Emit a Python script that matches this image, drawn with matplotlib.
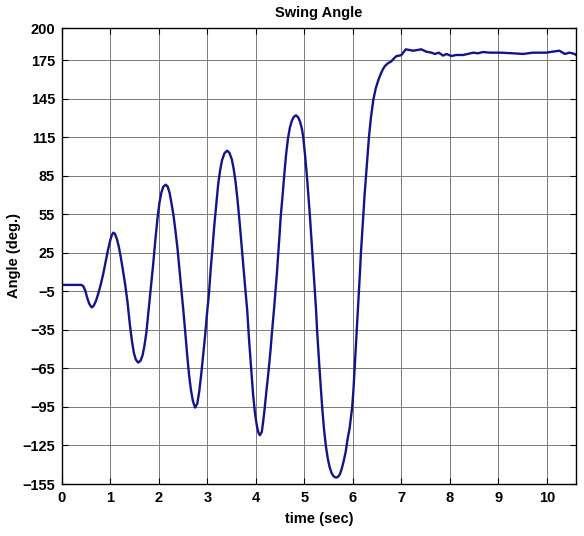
import matplotlib
matplotlib.use('agg')
import matplotlib.pyplot as plt
import numpy as np

# swing angle readings (time in sec, angle in deg.)
t_sec = [0.00, 0.40, 0.44, 0.48, 0.52, 0.56, 0.61, 0.65, 0.70, 0.75,
         0.80, 0.85, 0.90, 0.95, 1.00, 1.03, 1.06, 1.09, 1.13, 1.17,
         1.21, 1.25, 1.30, 1.35, 1.40, 1.44, 1.48, 1.52, 1.57, 1.62,
         1.66, 1.70, 1.74, 1.78, 1.83, 1.88, 1.93, 1.97, 2.01, 2.05,
         2.09, 2.14, 2.18, 2.22, 2.26, 2.30, 2.34, 2.38, 2.42, 2.46,
         2.50, 2.54, 2.58, 2.62, 2.66, 2.70, 2.745, 2.79, 2.83, 2.87,
         2.91, 2.95, 2.99, 3.03, 3.07, 3.10, 3.14, 3.18, 3.22, 3.26,
         3.30, 3.35, 3.405, 3.45, 3.50, 3.54, 3.58, 3.62, 3.66, 3.70,
         3.74, 3.78, 3.82, 3.86, 3.90, 3.94, 3.98, 4.02, 4.05, 4.08,
         4.12, 4.15, 4.18, 4.22, 4.26, 4.30, 4.33, 4.37, 4.40, 4.43,
         4.46, 4.49, 4.51, 4.55, 4.58, 4.62, 4.66, 4.70, 4.74, 4.78,
         4.825, 4.87, 4.91, 4.95, 4.975, 5.015, 5.05, 5.08, 5.11, 5.14,
         5.165, 5.19, 5.215, 5.24, 5.26, 5.285, 5.31, 5.34, 5.365, 5.40,
         5.44, 5.48, 5.52, 5.56, 5.60, 5.65, 5.69, 5.73, 5.77, 5.81,
         5.85, 5.89, 5.93, 5.96, 5.985, 6.01, 6.035, 6.06, 6.08, 6.10,
         6.125, 6.145, 6.165, 6.19, 6.215, 6.24, 6.27, 6.30, 6.33, 6.37,
         6.42, 6.47, 6.52, 6.57, 6.62, 6.66, 6.72, 6.79, 6.85, 6.90,
         6.96, 7.00, 7.05, 7.09, 7.17, 7.24, 7.32, 7.41, 7.46, 7.51,
         7.62, 7.69, 7.77, 7.86, 7.93, 8.03, 8.13, 8.27, 8.37, 8.48,
         8.58, 8.68, 8.82, 9.03, 9.30, 9.51, 9.71, 9.99, 10.12, 10.26,
         10.37, 10.47, 10.57, 10.60]
angle_deg = [0.0, 0.0, -1.0, -4.5, -10.0, -14.5, -17.5, -16.5, -12.5, -6.5,
             0.5, 8.5, 18.0, 27.5, 35.5, 39.0, 40.7, 39.8, 36.0, 30.0,
             22.0, 13.0, 1.0, -13.0, -31.0, -43.0, -52.5, -58.0, -60.5, -59.0,
             -55.0, -47.5, -37.0, -22.0, -3.0, 16.0, 37.0, 52.0, 64.0, 72.0,
             76.5, 78.0, 76.5, 71.5, 63.0, 54.0, 42.0, 29.0, 13.0, -3.0,
             -19.0, -36.0, -54.0, -70.0, -82.0, -90.5, -95.5, -92.5, -83.0, -70.0,
             -55.0, -40.0, -22.5, -7.0, 14.0, 27.0, 46.0, 62.0, 78.0, 89.0,
             97.0, 102.5, 104.5, 103.0, 98.0, 90.5, 80.0, 66.0, 50.0, 32.0,
             14.0, -3.0, -20.0, -44.0, -65.0, -85.0, -100.0, -110.0, -115.0, -117.0,
             -114.5, -106.0, -96.0, -81.0, -67.0, -51.0, -37.0, -20.0, -6.0, 8.0,
             24.0, 41.0, 53.0, 70.0, 84.0, 101.0, 114.0, 122.5, 127.8, 130.8,
             132.0, 130.5, 127.0, 121.0, 115.0, 100.0, 85.0, 70.0, 55.0, 38.0,
             25.0, 10.0, -5.0, -20.0, -35.0, -50.0, -65.0, -81.0, -95.0, -111.0,
             -125.0, -135.0, -142.0, -146.5, -149.0, -150.0, -149.5, -147.5, -143.0, -137.0,
             -130.0, -120.0, -112.0, -103.0, -95.0, -82.0, -65.0, -49.0, -35.0, -21.0,
             -5.0, 10.0, 25.0, 40.0, 55.0, 70.0, 85.0, 100.0, 115.0, 130.0,
             144.0, 153.0, 159.0, 164.0, 168.0, 170.4, 172.5, 174.0, 176.5, 178.2,
             178.5, 179.0, 181.5, 183.4, 182.8, 182.3, 182.8, 183.4, 182.5, 181.6,
             180.8, 179.8, 180.8, 178.5, 179.8, 178.2, 179.0, 179.0, 179.8, 180.8,
             180.3, 181.3, 180.8, 180.8, 180.3, 179.8, 180.8, 180.8, 181.6, 182.3,
             179.8, 180.8, 179.8, 179.0]

y_ticks = [-155, -125, -95, -65, -35, -5, 25, 55, 85, 115, 145, 175, 200]
x_ticks = [0, 1, 2, 3, 4, 5, 6, 7, 8, 9, 10]

plt.rcParams['font.family'] = ['Liberation Sans', 'DejaVu Sans']
plt.rcParams['font.weight'] = 'bold'

fig = plt.figure(figsize=(5.84, 5.36), dpi=100)
ax = fig.add_axes([62/584, 1 - 484/536, (576 - 62)/584, (484 - 28)/536])

ax.plot(t_sec, angle_deg, color='#14148a', linewidth=1.7)

ax.set_xlim(0, 10.6)
ax.set_ylim(-155, 200)
ax.set_xticks(x_ticks)
ax.set_yticks(y_ticks)
ax.grid(True, color='#7a7a7a', linewidth=0.7)
ax.tick_params(direction='in', top=True, right=True, labelsize=10.5, length=4,
               width=0.8, pad=5)
for lab in ax.get_xticklabels() + ax.get_yticklabels():
    lab.set_fontweight('bold')
for sp in ax.spines.values():
    sp.set_linewidth(1.0)

ax.set_title('Swing Angle', fontsize=10.5, fontweight='bold', pad=8)
ax.set_xlabel('time (sec)', fontsize=10.5, fontweight='bold', labelpad=5)
ax.set_ylabel('Angle (deg.)', fontsize=10.5, fontweight='bold', labelpad=1)

plt.savefig('out.png', dpi=100)
